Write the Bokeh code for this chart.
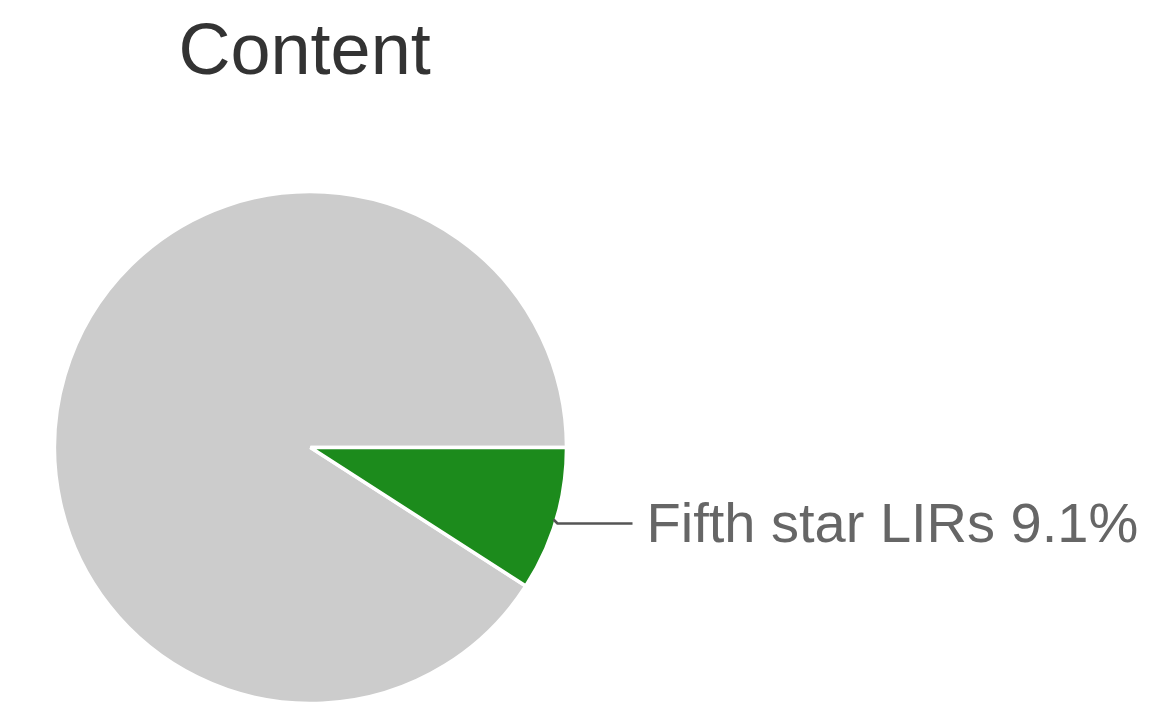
import math
from bokeh.plotting import figure
from bokeh.models import ColumnDataSource, Range1d
from bokeh.core.properties import value
from bokeh.embed import file_html
from bokeh.resources import INLINE

# ---- data ----
title_text = "Content"
categories = ["Other", "Fifth star LIRs"]
values = [90.9, 9.1]
colors = ["#cccccc", "#1c8b1c"]
shown_labels = ["", "Fifth star LIRs 9.1%"]

W, H = 1154, 703
p = figure(width=W, height=H, output_backend="svg", toolbar_location=None,
           x_range=Range1d(0, W), y_range=Range1d(0, H), min_border=0)
p.axis.visible = False
p.grid.visible = False
p.outline_line_color = None
p.background_fill_color = "white"

cx, cy, r = 310, H - 447, 256
total = sum(values)
# green slice starts at 3 o'clock going clockwise; gray fills the rest
fr_green = values[1] / total
starts = [0.0, -2 * math.pi * fr_green]
ends = [2 * math.pi * (1 - fr_green), 0.0]
src = ColumnDataSource(dict(cat=categories, val=values, color=colors,
                            start=starts, end=ends))
p.wedge(x=cx, y=cy, radius=r, start_angle="start", end_angle="end",
        fill_color="color", line_color="white", line_width=3.5, source=src)

# leader line and label for the green slice
ly = H - 523
p.line(x=[553, 557, 632], y=[H - 519, ly, ly], line_color="#555555", line_width=2.5)
p.text(x=[646], y=[H - 545 + 23], text=[shown_labels[1]], text_font=value("Liberation Sans"),
       text_font_size="56px", text_color="#666666", text_baseline="alphabetic",
       text_align="left")

# title
p.text(x=[178], y=[H - 74 + 26], text=[title_text], text_font=value("Liberation Sans"),
       text_font_size="72px", text_color="#333333", text_baseline="alphabetic",
       text_align="left")

open("out.html", "w").write(file_html(p, INLINE))
